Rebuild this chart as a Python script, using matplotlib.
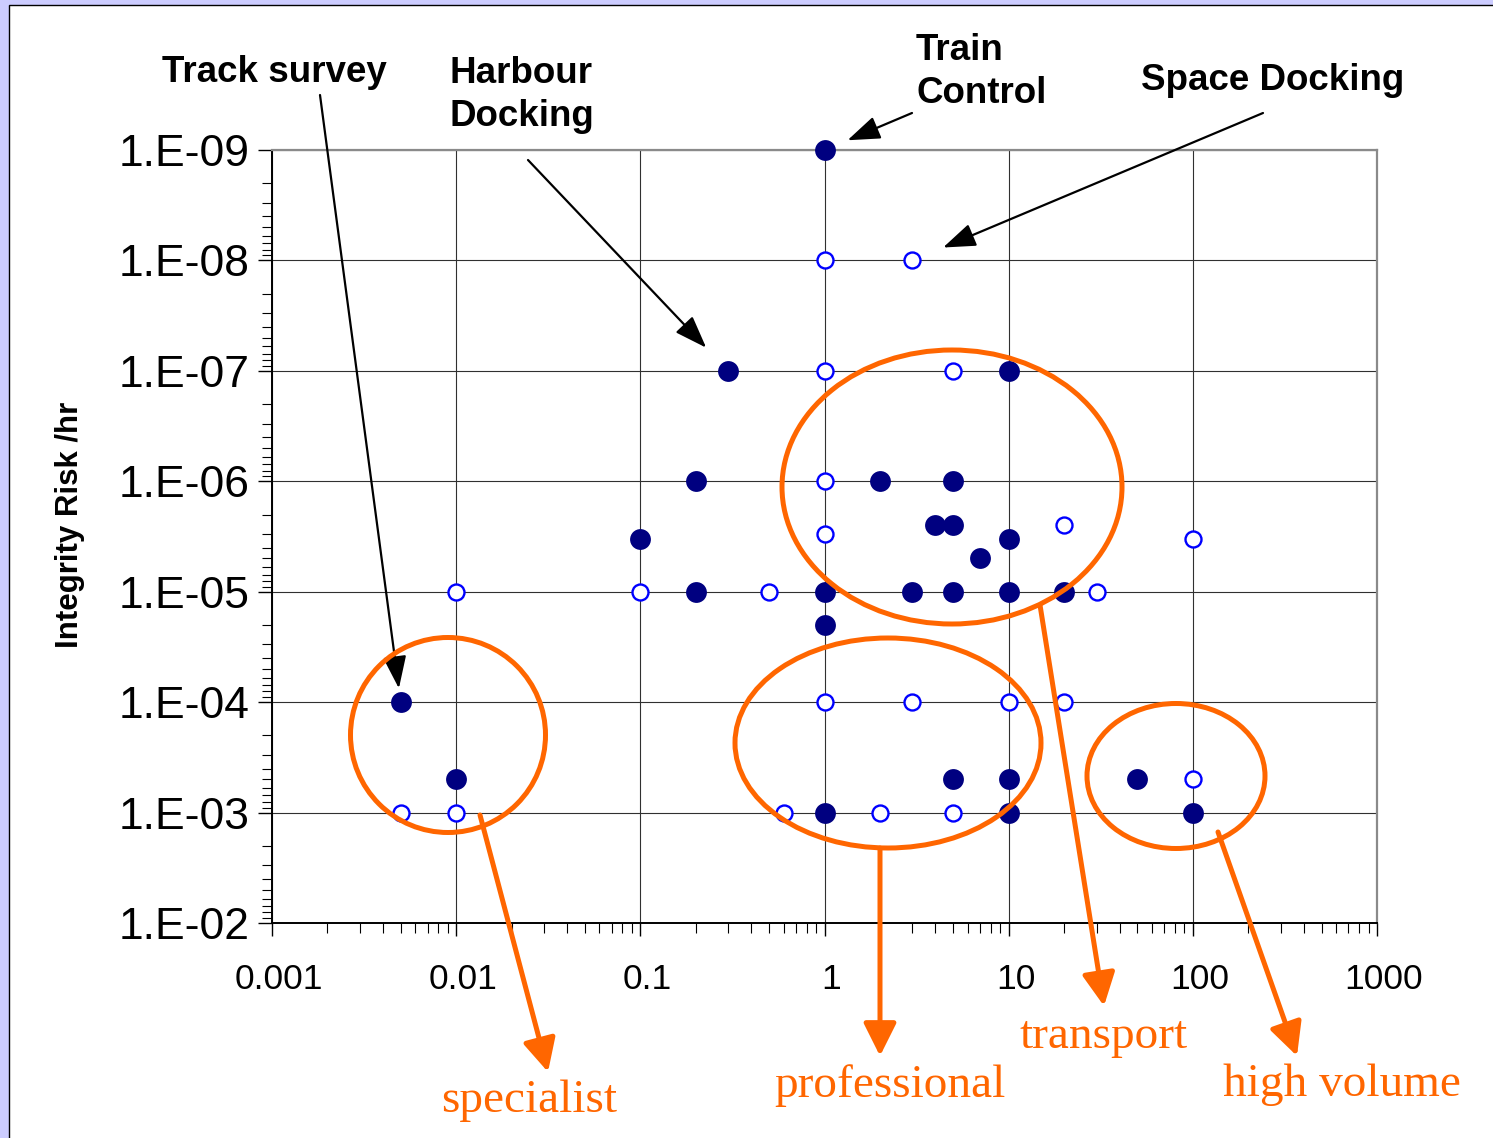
import numpy as np
import matplotlib
matplotlib.use("Agg")
import matplotlib.pyplot as plt
import matplotlib.transforms as mtransforms
from matplotlib.patches import Ellipse, Rectangle, FancyArrowPatch
from matplotlib.ticker import FixedLocator, FuncFormatter, LogLocator, NullFormatter

# ---------------- data ----------------
filled_x = [1, 0.3, 10, 0.2, 2, 5, 4, 5, 0.1, 10, 7,
            0.2, 1, 3, 5, 10, 20, 1, 0.005, 0.01, 5, 10, 50, 1, 10, 100]
filled_y = [1e-9, 1e-7, 1e-7, 1e-6, 1e-6, 1e-6, 2.5e-6, 2.5e-6, 3.3e-6, 3.3e-6, 5e-6,
            1e-5, 1e-5, 1e-5, 1e-5, 1e-5, 1e-5, 2e-5, 1e-4, 5e-4, 5e-4, 5e-4, 5e-4, 1e-3, 1e-3, 1e-3]
open_x = [1, 3, 1, 5, 1, 1, 20, 100, 0.01, 0.1, 0.5, 30,
          1, 3, 10, 20, 100, 0.005, 0.01, 0.6, 2, 5]
open_y = [1e-8, 1e-8, 1e-7, 1e-7, 1e-6, 3e-6, 2.5e-6, 3.3e-6, 1e-5, 1e-5, 1e-5, 1e-5,
          1e-4, 1e-4, 1e-4, 1e-4, 5e-4, 1e-3, 1e-3, 1e-3, 1e-3, 1e-3]
x_ticks = [0.001, 0.01, 0.1, 1, 10, 100, 1000]
x_tick_labels = ["0.001", "0.01", "0.1", "1", "10", "100", "1000"]
y_ticks = [1e-9, 1e-8, 1e-7, 1e-6, 1e-5, 1e-4, 1e-3, 1e-2]
y_label = "Integrity Risk /hr"
# annotated points: (label, x, y)
callouts = [("Track survey", 0.005, 1e-4),
            ("Harbour\nDocking", 0.3, 1e-7),
            ("Train\nControl", 1, 1e-9),
            ("Space Docking", 3, 1e-8)]
groups = ["specialist", "professional", "transport", "high volume"]

# ---------------- figure ----------------
W, H = 1493, 1138
fig = plt.figure(figsize=(W / 100, H / 100), dpi=100, facecolor="#CCCCFF")

def fx(x):
    return x / W

def fy(y):
    return 1 - y / H

# white page with black left/top edge
fig.add_artist(Rectangle((fx(8.5), -0.05), 1.2, fy(4.5) + 0.05, transform=fig.transFigure,
                         facecolor="white", edgecolor="black", lw=1.0, zorder=-10))

ax = fig.add_axes([fx(272), fy(923), (1377 - 272) / W, (923 - 150) / H])
ax.set_facecolor("white")
ax.set_xscale("log")
ax.set_yscale("log")
ax.set_xlim(0.001, 1000)
ax.set_ylim(1e-2, 1e-9)

ax.xaxis.set_major_locator(FixedLocator(x_ticks))
ax.xaxis.set_major_formatter(FuncFormatter(
    lambda v, p: x_tick_labels[int(np.argmin([abs(np.log10(t) - np.log10(v)) for t in x_ticks]))]))
ax.xaxis.set_minor_locator(LogLocator(base=10, subs=np.arange(2, 10), numticks=20))
ax.xaxis.set_minor_formatter(NullFormatter())
ax.yaxis.set_major_locator(FixedLocator(y_ticks))
ax.yaxis.set_major_formatter(FuncFormatter(lambda v, p: "1.E-%02d" % int(round(-np.log10(v)))))
ax.yaxis.set_minor_locator(LogLocator(base=10, subs=np.arange(2, 10), numticks=20))
ax.yaxis.set_minor_formatter(NullFormatter())

ax.grid(True, which="major", color="#303030", lw=0.8)
ax.set_axisbelow(True)

ax.tick_params(axis="y", which="major", direction="out", length=10, width=1.0,
               labelsize=32, pad=6)
ax.tick_params(axis="y", which="minor", direction="out", length=7, width=0.8)
ax.tick_params(axis="x", which="major", direction="out", length=9, width=1.0,
               labelsize=25.5, pad=20)
ax.tick_params(axis="x", which="minor", direction="out", length=7, width=0.8)
ax.tick_params(top=False, right=False)
for lab in ax.get_yticklabels() + ax.get_xticklabels():
    lab.set_fontfamily("Liberation Sans")
shift = mtransforms.ScaledTranslation(7 / 100, 0, fig.dpi_scale_trans)
for lab in ax.get_xticklabels():
    lab.set_transform(lab.get_transform() + shift)

for s in ["top", "right"]:
    ax.spines[s].set_color("#8a8a8a")
    ax.spines[s].set_linewidth(1.6)
for s in ["left", "bottom"]:
    ax.spines[s].set_color("black")
    ax.spines[s].set_linewidth(1.4)

ax.plot(filled_x, filled_y, ls="none", marker="o", ms=15, mfc="#000080", mec="#000080",
        mew=0, zorder=3, clip_on=False)
ax.plot(open_x, open_y, ls="none", marker="o", ms=11.5, mfc="white", mec="#0000FF",
        mew=1.7, zorder=3, clip_on=False)

fig.text(fx(70), fy(525), y_label, rotation=90, ha="center", va="center",
         fontsize=22.5, fontweight="bold", family="Liberation Sans")

# ---------------- black callouts ----------------
text_pos = [(162, 73, "left"), (449, 95, "left"), (916, 72, "left"), (1141, 81, "left")]
tails = [(320, 95), (528, 160), (912, 113), (1263, 113)]
shrinks = [10, 23, 18, 24]
for (lab, px, py), (tx, ty, ha), (ax_, ay_), sh in zip(callouts, text_pos, tails, shrinks):
    fig.text(fx(tx), fy(ty), lab, ha=ha, va="center", fontsize=26.5, fontweight="bold",
             family="Liberation Sans", linespacing=1.3)
    ax.annotate("", xy=(px, py), xycoords="data", xytext=(fx(ax_), fy(ay_)),
                textcoords="figure fraction",
                arrowprops=dict(arrowstyle="-|>,head_length=1.25,head_width=0.45",
                                mutation_scale=16, color="black", lw=1.6,
                                shrinkA=0, shrinkB=sh), zorder=5)

# ---------------- orange groups ----------------
orange = "#FF6600"
ellipses = [(448, 735, 195, 195), (888, 743, 306, 210), (952, 487, 340, 274), (1176, 776, 178, 145)]
arrows = [((480, 815), (548, 1072)), ((880, 848), (880, 1056)),
          ((1040, 605), (1104, 1006)), ((1218, 832), (1297, 1056))]
labels_pos = [(529, 1112), (890, 1097), (1104, 1048), (1342, 1096)]
for (cx, cy, w, h) in ellipses:
    fig.add_artist(Ellipse((fx(cx), fy(cy)), w / W, h / H, transform=fig.transFigure,
                           facecolor="none", edgecolor=orange, lw=3.6, zorder=6))
for (a, b) in arrows:
    fig.add_artist(FancyArrowPatch((fx(a[0]), fy(a[1])), (fx(b[0]), fy(b[1])),
                                   transform=fig.transFigure,
                                   arrowstyle="-|>,head_length=1.0,head_width=0.5",
                                   mutation_scale=20, color=orange, lw=3.6,
                                   shrinkA=0, shrinkB=0, zorder=6))
for g, (tx, ty) in zip(groups, labels_pos):
    fig.text(fx(tx), fy(ty), g, ha="center", va="baseline", fontsize=34,
             family="Liberation Serif", color=orange)

fig.savefig("out.png", dpi=100, facecolor=fig.get_facecolor())
